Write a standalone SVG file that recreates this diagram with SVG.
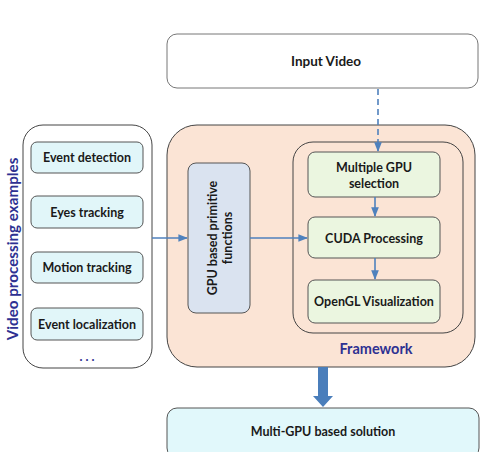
<svg xmlns="http://www.w3.org/2000/svg" width="485" height="452" viewBox="0 0 485 452">
<defs>
<style>
text{font-family:Lato,"Open Sans","Liberation Sans",sans-serif;font-weight:bold;font-size:12.5px;fill:#1a1a1a;text-anchor:middle;dominant-baseline:central}
.lbl{fill:#2E3192;font-size:14.5px}
.edge{stroke:#4F81BD;stroke-width:1.6;fill:none}
</style>
<marker id="ah" viewBox="0 0 10 10" refX="9" refY="5" markerWidth="6" markerHeight="6" orient="auto"><path d="M0,1L10,5L0,9z" fill="#4F81BD"/></marker>
</defs>
<rect width="485" height="452" fill="#fff"/>
<g id="input-video"><rect x="167" y="34" width="311" height="54" rx="10" fill="#fff" stroke="#777" stroke-width="1"/><text x="326" y="61" style="font-size:13.5px">Input Video</text></g>
<g id="examples"><rect x="23" y="125" width="129" height="243" rx="20" fill="#fff" stroke="#444" stroke-width="1"/>
<text class="lbl" transform="translate(12,249) rotate(-90)" style="font-size:15.2px">Video processing examples</text>
<text x="87" y="356" style="fill:#2E3192">. . .</text></g>
<g id="event-detection"><rect x="31" y="142" width="112" height="31" rx="6" fill="#E1F6F9" stroke="#555"/><text x="87" y="157.5">Event detection</text></g>
<g id="eyes-tracking"><rect x="31" y="196" width="112" height="32" rx="6" fill="#E1F6F9" stroke="#555"/><text x="87" y="212">Eyes tracking</text></g>
<g id="motion-tracking"><rect x="31" y="252" width="112" height="31" rx="6" fill="#E1F6F9" stroke="#555"/><text x="87" y="267.5">Motion tracking</text></g>
<g id="event-localization"><rect x="31" y="308" width="112" height="32" rx="6" fill="#E1F6F9" stroke="#555"/><text x="87" y="324">Event localization</text></g>
<g id="framework"><rect x="167" y="125" width="308" height="242" rx="30" fill="#FBE4D5" stroke="#444"/>
<rect x="293" y="142" width="170" height="191" rx="20" fill="none" stroke="#444"/>
<text class="lbl" x="376" y="348">Framework</text></g>
<g id="gpu-primitives"><rect x="188" y="163" width="62" height="150" rx="8" fill="#DAE3F0" stroke="#555"/><text transform="translate(219,238) rotate(-90)"><tspan x="0" dy="-7">GPU based primitive</tspan><tspan x="0" dy="15">functions</tspan></text></g>
<g id="multi-gpu-selection"><rect x="308" y="152" width="132" height="45" rx="7" fill="#EBF6E0" stroke="#555"/><text x="374" y="174.5"><tspan x="374" dy="-8">Multiple GPU</tspan><tspan x="374" dy="16">selection</tspan></text></g>
<g id="cuda"><rect x="308" y="217" width="132" height="41" rx="7" fill="#EBF6E0" stroke="#555"/><text x="374" y="238">CUDA Processing</text></g>
<g id="opengl"><rect x="308" y="280" width="132" height="43" rx="7" fill="#EBF6E0" stroke="#555"/><text x="374" y="301.5">OpenGL Visualization</text></g>
<g id="solution"><rect x="167" y="408" width="312" height="50" rx="10" fill="#E1F8FB" stroke="#555"/><text x="323" y="431">Multi-GPU based solution</text></g>
<g id="connectors">
<line class="edge" x1="378" y1="89" x2="378" y2="151" stroke-dasharray="6,4" marker-end="url(#ah)"/>
<line class="edge" x1="375" y1="197" x2="375" y2="216" marker-end="url(#ah)"/>
<line class="edge" x1="375" y1="258" x2="375" y2="279" marker-end="url(#ah)"/>
<line class="edge" x1="152" y1="238" x2="187" y2="238" marker-end="url(#ah)"/>
<line class="edge" x1="250" y1="238" x2="307" y2="238" marker-end="url(#ah)"/>
<path d="M318,367H328V396H333L323,407L313,396H318z" fill="#4A7EBB"/>
</g>
</svg>
